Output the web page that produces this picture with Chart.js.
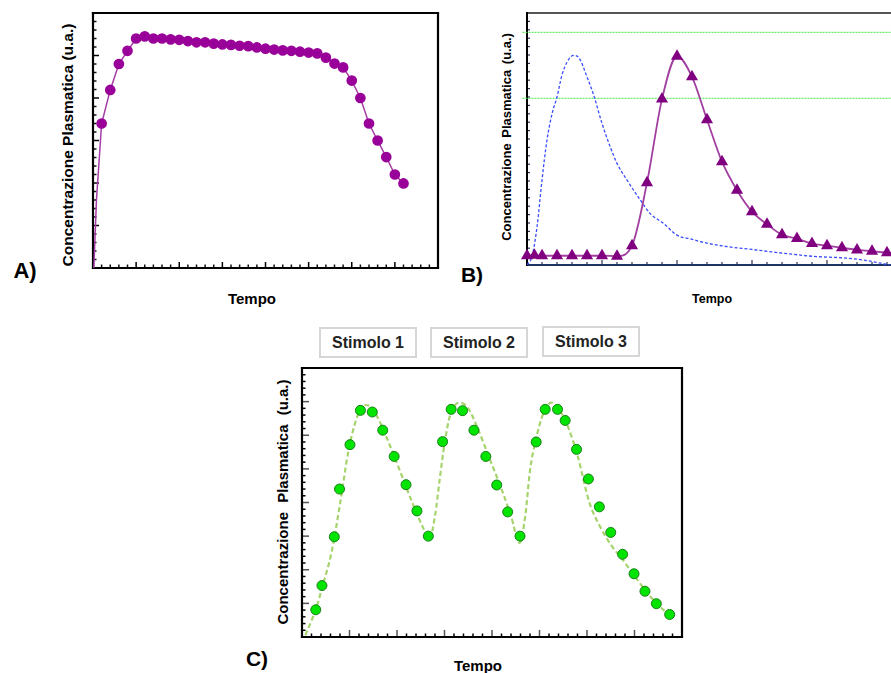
<!DOCTYPE html>
<html>
<head>
<meta charset="utf-8">
<script src="https://cdn.jsdelivr.net/npm/chart.js@4.4.1/dist/chart.umd.min.js"></script>
<style>
  html, body { margin: 0; padding: 0; width: 891px; height: 673px; overflow: hidden; background: #fff; }
  body { position: relative; font-family: Arial, "Liberation Sans", sans-serif; font-weight: bold; color: #000; }
  canvas { position: absolute; }
  .lbl { position: absolute; white-space: nowrap; transform: translate(-50%, -50%); line-height: 1; }
  .vt { position: absolute; white-space: nowrap; transform: translate(-50%, -50%) rotate(-90deg); line-height: 1; }
  .stim { position: absolute; box-sizing: border-box; width: 98px; height: 31px; border: 2px solid #d6d6d6;
          text-align: center; line-height: 27px; font-size: 16px; color: #222; }
</style>
</head>
<body>
<canvas id="chartA" width="365" height="275" style="left:83px;top:3px"></canvas>
<canvas id="chartB" width="400" height="272" style="left:517px;top:3px"></canvas>
<canvas id="chartC" width="400" height="289" style="left:292px;top:358px"></canvas>

<div class="vt" style="left:68px;top:145px;font-size:15.5px">Concentrazione Plasmatica (u.a.)</div>
<div class="lbl" style="left:25px;top:271px;font-size:22px">A)</div>
<div class="lbl" style="left:252px;top:298px;font-size:15px">Tempo</div>

<div class="vt" style="left:506px;top:137px;font-size:13px;word-spacing:2px">Concentrazione Plasmatica (u.a.)</div>
<div class="lbl" style="left:472px;top:274px;font-size:21px">B)</div>
<div class="lbl" style="left:712px;top:299px;font-size:12.5px">Tempo</div>

<div class="vt" style="left:282px;top:502px;font-size:15px;word-spacing:5px">Concentrazione Plasmatica (u.a.)</div>
<div class="lbl" style="left:257px;top:658px;font-size:21px">C)</div>
<div class="lbl" style="left:478px;top:665px;font-size:15px">Tempo</div>

<div class="stim" style="left:319px;top:327px">Stimolo 1</div>
<div class="stim" style="left:430px;top:327px">Stimolo 2</div>
<div class="stim" style="left:542px;top:326px">Stimolo 3</div>

<script>
// --- A) continuous infusion ---
const aTime = [0.02, 0.08, 0.2, 0.4, 0.6, 0.8, 1.0, 1.2, 1.4, 1.6, 1.8, 2.0, 2.2, 2.4, 2.6, 2.8, 3.0, 3.2, 3.4,
  3.6, 3.8, 4.0, 4.2, 4.4, 4.6, 4.8, 5.0, 5.2, 5.4, 5.6, 5.8, 6.0, 6.2, 6.4, 6.6, 6.8, 7.0, 7.2];
const aConc = [0.0, 1.6, 3.40, 4.19, 4.80, 5.11, 5.40, 5.45, 5.40, 5.40, 5.38, 5.37, 5.34, 5.31, 5.31, 5.28, 5.26,
  5.25, 5.23, 5.22, 5.19, 5.16, 5.14, 5.12, 5.11, 5.09, 5.07, 5.05, 4.95, 4.81, 4.72, 4.41, 4.00, 3.40, 3.00,
  2.61, 2.20, 1.99];

// --- B) two formulations ---
const bTime = [0, 0.5, 1, 2, 3, 4, 5, 6, 7, 8, 9, 10, 11, 12, 13, 14, 15, 16, 17, 18, 19, 20, 21, 22, 23, 24];
const bDelayed = [0.22, 0.23, 0.22, 0.22, 0.22, 0.22, 0.22, 0.21, 0.46, 1.96, 3.95, 4.97, 4.48, 3.46, 2.46, 1.78,
  1.27, 0.97, 0.72, 0.63, 0.51, 0.46, 0.41, 0.36, 0.33, 0.29];
const bFastTime = [0, 0.33, 0.67, 1.0, 1.33, 1.67, 2.0, 2.33, 2.67, 3.1, 3.45, 4.0, 4.45, 5.0, 5.55, 6.0, 6.67,
  7.55, 8.2, 9.1, 10.0, 10.9, 12.0, 13.3, 15.0, 17.1, 19.3, 21.1, 22.4, 24.2];
const bFast = [0, 0.2, 0.91, 2.02, 2.97, 3.6, 4.0, 4.52, 4.83, 4.99, 4.94, 4.48, 4.04, 3.37, 2.81, 2.42, 2.02,
  1.55, 1.23, 0.99, 0.71, 0.62, 0.52, 0.44, 0.37, 0.28, 0.2, 0.17, 0.12, 0];
const bLevels = [5.54, 3.97];

// --- C) three stimuli ---
const cTime = [0.29, 0.42, 0.68, 0.79, 1.01, 1.23, 1.48, 1.70, 1.94, 2.19, 2.42, 2.66, 2.96, 3.14, 3.38, 3.62,
  3.87, 4.10, 4.33, 4.59, 4.93, 5.12, 5.38, 5.54, 5.78, 6.03, 6.26, 6.50, 6.75, 6.99, 7.22, 7.46, 7.74];
const cConc = [0.81, 1.53, 2.98, 4.40, 5.72, 6.74, 6.69, 6.15, 5.37, 4.53, 3.75, 3.00, 5.81, 6.77, 6.73, 6.15,
  5.37, 4.52, 3.72, 3.00, 5.80, 6.77, 6.77, 6.44, 5.58, 4.70, 3.87, 3.11, 2.46, 1.88, 1.36, 0.99, 0.67];
const cFitTime = [0.07, 0.29, 0.45, 0.62, 0.80, 0.98, 1.15, 1.29, 1.45, 1.62, 1.85, 2.10, 2.35, 2.55, 2.68, 2.80,
  2.90, 3.00, 3.12, 3.32, 3.50, 3.70, 3.95, 4.20, 4.40, 4.58, 4.70, 4.80, 4.92, 5.08, 5.25, 5.42, 5.60, 5.80,
  6.05, 6.25, 6.50, 6.75, 7.00, 7.25, 7.50, 7.74];
const cFit = [0.05, 0.82, 1.6, 2.5, 3.95, 5.55, 6.5, 6.9, 6.85, 6.45, 5.7, 4.8, 3.9, 3.25, 2.92, 3.6, 4.7, 5.75,
  6.6, 6.97, 6.8, 6.2, 5.3, 4.4, 3.6, 2.8, 3.6, 4.95, 5.85, 6.65, 6.97, 6.75, 6.25, 5.4, 4.0, 3.35, 2.75, 2.3,
  1.82, 1.35, 0.95, 0.64];

const toXY = (xs, ys) => xs.map((x, i) => ({ x: x, y: ys[i] }));

// --- Frame + inward minor/major ticks ---
const frameTicks = {
  id: 'frameTicks',
  beforeDatasetsDraw(chart, args, o) {
    const { ctx, chartArea: a, scales: { x, y } } = chart;
    ctx.save();
    ctx.lineWidth = o.tickWidth;
    const nx = Math.round((x.max - x.min) / o.xStep);
    for (let i = 1; i < nx; i++) {
      const major = i % o.xEvery === 0;
      const px = x.getPixelForValue(x.min + i * o.xStep);
      ctx.strokeStyle = major ? o.majorColor : o.tickColor;
      ctx.beginPath();
      ctx.moveTo(px, a.bottom);
      ctx.lineTo(px, a.bottom - (major ? o.majorLen : o.minorLen));
      ctx.stroke();
    }
    const ny = Math.round((y.max - y.min) / o.yStep);
    for (let i = 1; i < ny; i++) {
      const major = i % o.yEvery === 0;
      const py = y.getPixelForValue(y.min + i * o.yStep);
      ctx.strokeStyle = major ? o.majorColor : o.tickColor;
      ctx.beginPath();
      ctx.moveTo(a.left, py);
      ctx.lineTo(a.left + (major ? o.majorLen : o.minorLen), py);
      ctx.stroke();
    }
    ctx.lineWidth = o.frameWidth;
    const side = (col, x1, y1, x2, y2) => {
      if (!col) return;
      ctx.strokeStyle = col;
      ctx.beginPath();
      ctx.moveTo(x1, y1);
      ctx.lineTo(x2, y2);
      ctx.stroke();
    };
    const h = o.frameWidth / 2;
    side(o.frame.top, a.left - h, a.top, a.right + h, a.top);
    side(o.frame.right, a.right, a.top, a.right, a.bottom);
    side(o.frame.bottom, a.left - h, a.bottom, a.right + h, a.bottom);
    side(o.frame.left, a.left, a.top - h, a.left, a.bottom + h);
    ctx.restore();
  }
};

function baseOptions(xMax, yMax, ticks) {
  return {
    responsive: false,
    animation: false,
    layout: { padding: { left: 10, top: 10, right: ticks.padRight || 10, bottom: 10 } },
    scales: {
      x: { type: 'linear', min: 0, max: xMax, display: false },
      y: { type: 'linear', min: 0, max: yMax, display: false }
    },
    plugins: { legend: { display: false }, tooltip: { enabled: false }, frameTicks: ticks }
  };
}

// --- Chart A ---
new Chart(document.getElementById('chartA'), {
  type: 'line',
  data: {
    datasets: [{
      data: toXY(aTime, aConc),
      borderColor: '#a63ca6',
      borderWidth: 1.5,
      pointBackgroundColor: '#990099',
      pointBorderColor: '#990099',
      pointRadius: c => (c.dataIndex < 2 ? 0 : 4.6),
      tension: 0,
      clip: false
    }]
  },
  options: baseOptions(8, 6, {
    xStep: 0.2, xEvery: 5, yStep: 0.2, yEvery: 5, minorLen: 3.5, majorLen: 6,
    tickColor: '#111', majorColor: '#000', tickWidth: 1.5, frameWidth: 2.2,
    frame: { top: '#000', right: '#000', bottom: '#000', left: '#000' }
  }),
  plugins: [frameTicks]
});

// --- Chart B ---
new Chart(document.getElementById('chartB'), {
  type: 'line',
  data: {
    datasets: [
      {
        data: toXY(bTime, bDelayed),
        borderColor: '#a13fa1',
        borderWidth: 1.8,
        pointStyle: 'triangle',
        pointRadius: 5.2,
        pointBackgroundColor: '#800080',
        pointBorderColor: '#800080',
        cubicInterpolationMode: 'monotone',
        clip: false
      },
      {
        data: toXY(bFastTime, bFast),
        borderColor: '#3a4dff',
        borderWidth: 1.3,
        borderDash: [3, 2],
        pointRadius: 0,
        cubicInterpolationMode: 'monotone'
      },
      ...bLevels.map(l => ({
        data: [{ x: -0.3, y: l }, { x: 25, y: l }],
        borderColor: '#3ee83e',
        borderWidth: 1,
        borderDash: [2, 1],
        pointRadius: 0,
        clip: false
      }))
    ]
  },
  options: baseOptions(25, 6, {
    padRight: 15,
    xStep: 1, xEvery: 5, yStep: 0.2, yEvery: 100, minorLen: 3, majorLen: 5,
    tickColor: '#2b3550', majorColor: '#2b3550', tickWidth: 1.2, frameWidth: 2,
    frame: { top: '#555', right: null, bottom: '#1d3566', left: '#000' }
  }),
  plugins: [frameTicks]
});

// --- Chart C ---
new Chart(document.getElementById('chartC'), {
  type: 'line',
  data: {
    datasets: [
      {
        data: toXY(cTime, cConc),
        showLine: false,
        pointRadius: 5,
        pointBackgroundColor: '#00e400',
        pointBorderColor: '#1a7f1a',
        pointBorderWidth: 1
      },
      {
        data: toXY(cFitTime, cFit),
        borderColor: '#a5d36c',
        borderWidth: 2.2,
        borderDash: [5, 3],
        pointRadius: 0,
        cubicInterpolationMode: 'monotone'
      }
    ]
  },
  options: baseOptions(8, 8, {
    xStep: 0.2, xEvery: 5, yStep: 0.2, yEvery: 5, minorLen: 3.5, majorLen: 7,
    tickColor: '#000', majorColor: '#555', tickWidth: 1.5, frameWidth: 2.2,
    frame: { top: '#000', right: '#000', bottom: '#000', left: '#000' }
  }),
  plugins: [frameTicks]
});
</script>
</body>
</html>
